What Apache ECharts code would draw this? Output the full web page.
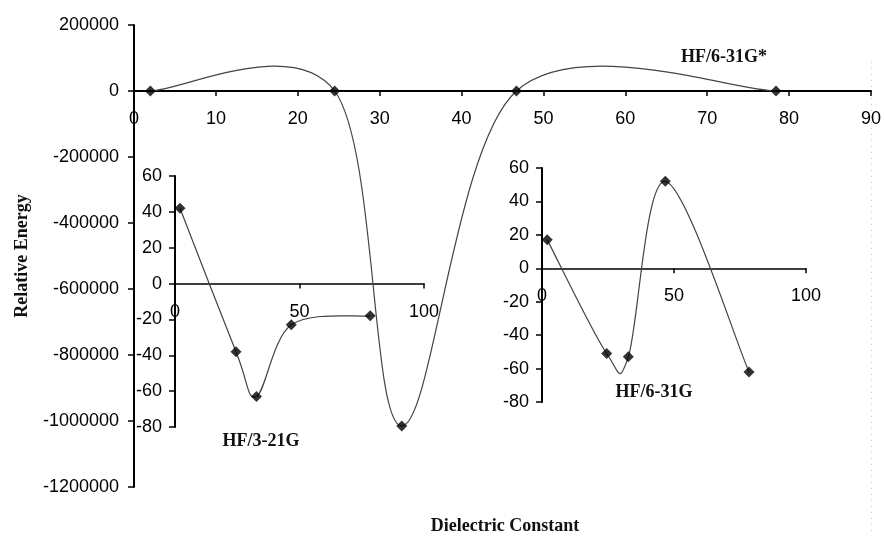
<!DOCTYPE html>
<html><head><meta charset="utf-8">
<script src="https://cdn.jsdelivr.net/npm/echarts@6/dist/echarts.min.js"></script>
<style>html,body{margin:0;padding:0;background:#fff}#c{width:884px;height:536px}</style>
</head><body><div id="c"></div>
<script>
// Dielectric constants of the solvents
const dielectric = [2.0, 24.5, 32.7, 46.7, 78.4];
// Main plot: HF/6-31G*
const hf631gStar = [0, 0, -1015000, 0, 0];
// Inset: HF/3-21G
const hf321g = [42, -38, -63, -23, -18];
// Inset: HF/6-31G
const hf631g = [17, -51, -53, 52, -62];

const mainXTicks = {min: 0, max: 90, interval: 10};
const mainYTicks = {min: -1200000, max: 200000, interval: 200000};
const insetXTicks = {min: 0, max: 100, interval: 50};
const insetYTicks = {min: -80, max: 60, interval: 20};

const pairs = (xs, ys) => xs.map((x, i) => [x, ys[i]]);

const tickFont = {fontFamily: 'Liberation Sans', fontSize: 18, color: '#000', formatter: v => String(v)};
const titleFont = {fontFamily: 'Liberation Serif', fontWeight: 'bold', fontSize: 18, fill: '#111'};

function xAxisDef(gi, t, lw) {
  return {
    type: 'value', gridIndex: gi, min: t.min, max: t.max, interval: t.interval, position: 'bottom',
    axisLine: {onZero: false, lineStyle: {color: '#000', width: lw}},
    axisTick: {show: true, inside: false, length: 5, lineStyle: {color: '#000', width: 1.5}},
    axisLabel: Object.assign({margin: 19}, tickFont),
    splitLine: {show: false}
  };
}
function yAxisDef(gi, t, lw, margin) {
  return {
    type: 'value', gridIndex: gi, min: t.min, max: t.max, interval: t.interval,
    axisLine: {show: true, onZero: false, lineStyle: {color: '#000', width: lw}},
    axisTick: {show: true, length: 6, lineStyle: {color: '#000', width: 1.5}},
    axisLabel: Object.assign({margin: margin}, tickFont),
    splitLine: {show: false}
  };
}
// Excel-style smoothed curve: cubic Bezier segments through the data points,
// positions taken from the library's own coordinate system (api.coord).
function curveSeries(name, gi, ys) {
  const pts = pairs(dielectric, ys);
  const n = pts.length;
  return {
    name: name, type: 'custom', xAxisIndex: gi, yAxisIndex: gi, data: pts, z: 3 + gi,
    clip: false,
    renderItem: function (params, api) {
      const i = params.dataIndex;
      if (i >= n - 1) return null;
      const P = k => api.coord(pts[Math.max(0, Math.min(n - 1, k))]);
      const p0 = P(i - 1), p1 = P(i), p2 = P(i + 1), p3 = P(i + 2);
      return {
        type: 'bezierCurve',
        shape: {
          x1: p1[0], y1: p1[1], x2: p2[0], y2: p2[1],
          cpx1: p1[0] + (p2[0] - p0[0]) / 6, cpy1: p1[1] + (p2[1] - p0[1]) / 6,
          cpx2: p2[0] - (p3[0] - p1[0]) / 6, cpy2: p2[1] - (p3[1] - p1[1]) / 6
        },
        style: {stroke: '#444', fill: null, lineWidth: 1.2}
      };
    }
  };
}
function markerSeries(name, gi, ys) {
  return {
    name: name, type: 'scatter', xAxisIndex: gi, yAxisIndex: gi,
    data: pairs(dielectric, ys), symbol: 'diamond', symbolSize: 11,
    itemStyle: {color: '#000'}, z: 6 + gi
  };
}

const chart = echarts.init(document.getElementById('c'));
chart.setOption({
  animation: false,
  backgroundColor: '#fff',
  grid: [
    {left: 134, top: 25, width: 739, height: 462},
    {left: 175, top: 176, width: 249, height: 251},
    {left: 542, top: 168, width: 264, height: 234}
  ],
  xAxis: [xAxisDef(0, mainXTicks, 2), xAxisDef(1, insetXTicks, 1.5), xAxisDef(2, insetXTicks, 1.5)],
  yAxis: [
    Object.assign(yAxisDef(0, mainYTicks, 2, 15), {
      name: 'Relative Energy', nameLocation: 'middle', nameRotate: 90, nameGap: 103,
      nameTextStyle: {fontFamily: 'Liberation Serif', fontWeight: 'bold', fontSize: 18, color: '#111'}
    }),
    yAxisDef(1, insetYTicks, 2, 13),
    yAxisDef(2, insetYTicks, 2, 13)
  ],
  series: [
    curveSeries('HF/6-31G*', 0, hf631gStar), markerSeries('HF/6-31G* pts', 0, hf631gStar),
    curveSeries('HF/3-21G', 1, hf321g), markerSeries('HF/3-21G pts', 1, hf321g),
    curveSeries('HF/6-31G', 2, hf631g), markerSeries('HF/6-31G pts', 2, hf631g)
  ],
  graphic: [
    {type: 'text', x: 724, y: 57, style: Object.assign({text: 'HF/6-31G*', align: 'center', verticalAlign: 'middle'}, titleFont)},
    {type: 'text', x: 261, y: 441, style: Object.assign({text: 'HF/3-21G', align: 'center', verticalAlign: 'middle'}, titleFont)},
    {type: 'text', x: 654, y: 392, style: Object.assign({text: 'HF/6-31G', align: 'center', verticalAlign: 'middle'}, titleFont)},
    {type: 'text', x: 505, y: 526, style: Object.assign({text: 'Dielectric Constant', align: 'center', verticalAlign: 'middle'}, titleFont)},
    {type: 'line', shape: {x1: 871.5, y1: 62, x2: 871.5, y2: 536}, style: {stroke: '#c8c8c8', lineWidth: 1, lineDash: [1, 5]}, z: -1}
  ]
});
// Move each x axis (line, ticks and labels) up to the y = 0 line of its grid.
const offsets = [0, 1, 2].map(gi => {
  const rect = chart.getModel().getComponent('grid', gi).coordinateSystem.getRect();
  const yZero = chart.convertToPixel({gridIndex: gi}, [0, 0])[1];
  return -(rect.y + rect.height - yZero);
});
chart.setOption({xAxis: offsets.map(o => ({offset: o}))});
</script></body></html>
